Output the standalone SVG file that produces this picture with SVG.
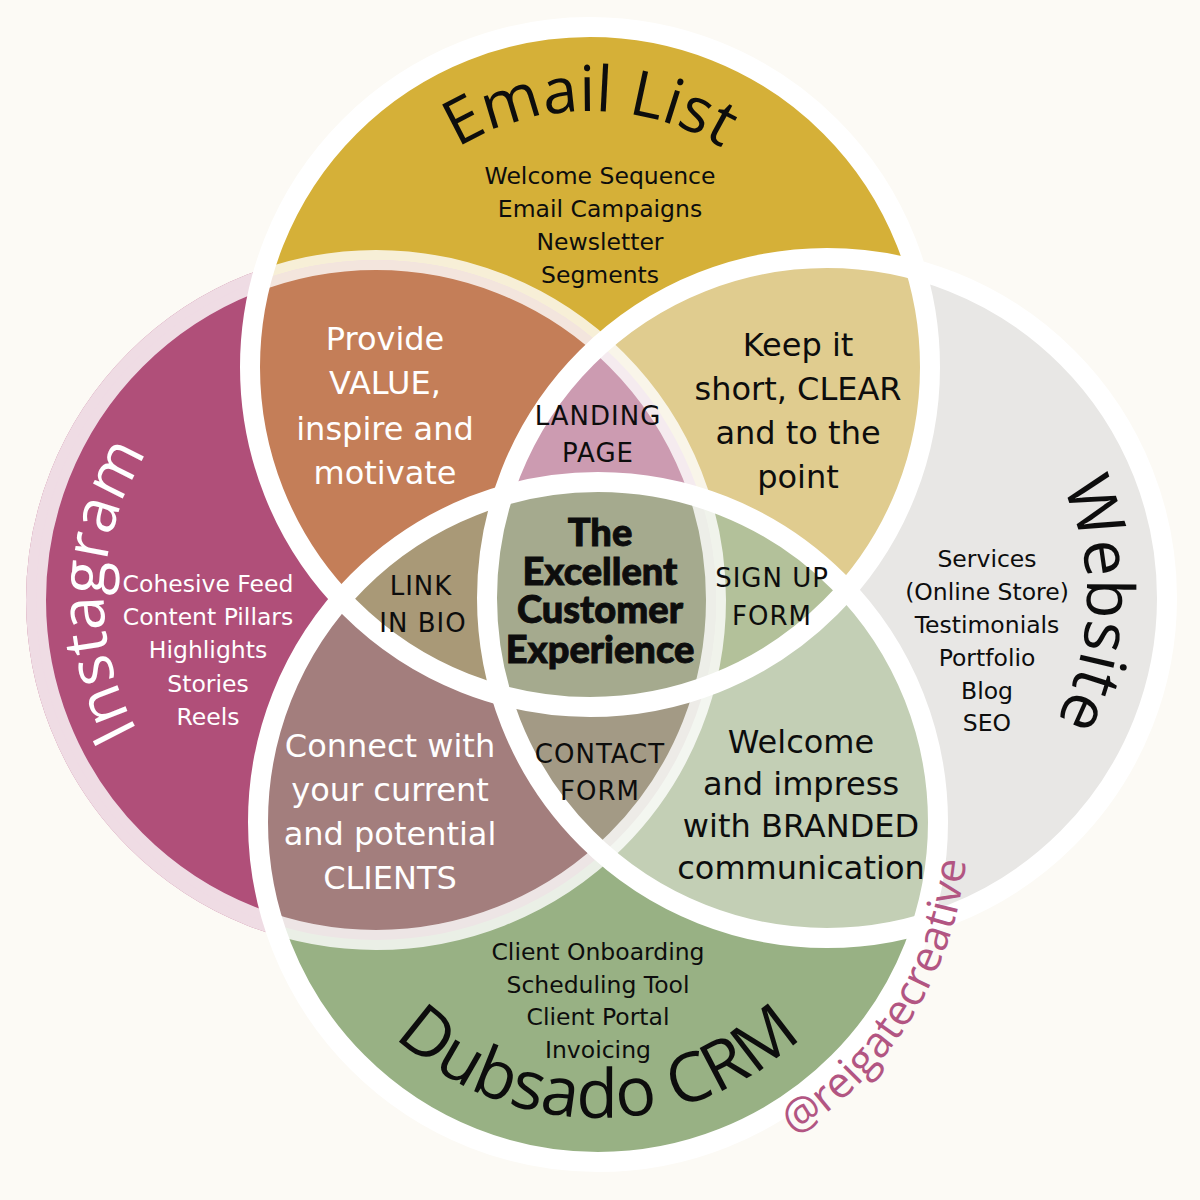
<svg xmlns="http://www.w3.org/2000/svg" width="1200" height="1200" viewBox="0 0 1200 1200">
<defs>
<clipPath id="cE"><circle cx="590" cy="367" r="340"/></clipPath>
<clipPath id="cI"><circle cx="376" cy="600" r="340"/></clipPath>
<clipPath id="cW"><circle cx="827" cy="598" r="340"/></clipPath>
<clipPath id="cD"><circle cx="598" cy="822" r="340"/></clipPath>
<path id="pE" d="M368.3,239 A256,256 0 0 1 811.7,239"/>
<path id="pI" d="M177.1,785.5 A272,272 0 0 1 190.5,401.1"/>
<path id="pW" d="M1029.9,435.4 A260,260 0 0 1 1022.3,769.6"/>
<path id="pD" d="M341.7,970 A296,296 0 0 0 854.3,970"/>
<path id="pR" d="M771.7,1148.7 A370,370 0 0 0 967.8,834.9"/>
</defs>
<style>
.t{font-family:"DejaVu Sans","Noto Sans",sans-serif;text-anchor:middle}
.li{font-size:23.5px}
.big{font-size:32px}
.lbl{font-size:26px;letter-spacing:1px}
.ctr{font-family:Lato,"Open Sans",sans-serif;font-weight:900;font-size:38px;text-anchor:middle;fill:#0d0d0d;stroke:#0d0d0d;stroke-width:0.9px}
.ttl{font-family:"Open Sans","Noto Sans",sans-serif;font-size:64px;text-anchor:middle}
.dk{fill:#0d0d0d}
.wt{fill:#ffffff}
.ring{fill:none;stroke:#ffffff;stroke-width:20}
</style>
<rect width="1200" height="1200" fill="#fcfaf5"/>

<!-- Instagram halo underlay -->
<circle cx="376" cy="600" r="340" fill="none" stroke="#b04f79" stroke-width="20"/>

<g id="email"><circle cx="590" cy="367" r="340" fill="#d5b038"/></g>
<g id="instagram"><circle cx="376" cy="600" r="340" fill="#b04f79"/></g>
<g id="website"><circle cx="827" cy="598" r="340" fill="#e8e7e5"/></g>
<g id="dubsado"><circle cx="598" cy="822" r="340" fill="#98b184"/></g>

<!-- pair overlaps -->
<g id="email-instagram" clip-path="url(#cE)"><circle cx="376" cy="600" r="340" fill="#c47e58"/></g>
<g id="email-website" clip-path="url(#cE)"><circle cx="827" cy="598" r="340" fill="#e0cc8f"/></g>
<g id="instagram-dubsado" clip-path="url(#cI)"><circle cx="598" cy="822" r="340" fill="#a37e7d"/></g>
<g id="website-dubsado" clip-path="url(#cW)"><circle cx="598" cy="822" r="340" fill="#c3cfb5"/></g>

<!-- triple overlaps -->
<g id="landing-page" clip-path="url(#cE)"><g clip-path="url(#cI)"><circle cx="827" cy="598" r="340" fill="#cc9bb1"/></g></g>
<g id="link-in-bio" clip-path="url(#cE)"><g clip-path="url(#cI)"><circle cx="598" cy="822" r="340" fill="#a99977"/></g></g>
<g id="sign-up-form" clip-path="url(#cE)"><g clip-path="url(#cW)"><circle cx="598" cy="822" r="340" fill="#b3c19a"/></g></g>
<g id="contact-form" clip-path="url(#cI)"><g clip-path="url(#cW)"><circle cx="598" cy="822" r="340" fill="#a39a85"/></g></g>

<!-- centre -->
<g id="centre" clip-path="url(#cE)"><g clip-path="url(#cI)"><g clip-path="url(#cW)"><circle cx="598" cy="822" r="340" fill="#a5aa8e"/></g></g></g>

<!-- outlines -->
<g id="outlines">
<circle cx="376" cy="600" r="340" fill="none" stroke="#ffffff" stroke-opacity="0.8" stroke-width="20"/>
<circle class="ring" cx="590" cy="367" r="340"/>
<circle class="ring" cx="827" cy="598" r="340"/>
<circle class="ring" cx="598" cy="822" r="340"/>
</g>

<!-- titles -->
<g id="titles">
<text class="ttl dk" style="font-size:63px"><textPath href="#pE" startOffset="50%">Email List</textPath></text>
<text class="ttl wt" style="font-size:62px"><textPath href="#pI" startOffset="50%">Instagram</textPath></text>
<text class="ttl dk" style="font-size:65px"><textPath href="#pW" startOffset="50%">Website</textPath></text>
<text class="ttl dk" style="font-size:68px"><textPath href="#pD" startOffset="50%">Dubsado CRM</textPath></text>
</g>

<!-- lists -->
<g id="email-items" class="t li dk">
<text x="600" y="184">Welcome Sequence</text>
<text x="600" y="217">Email Campaigns</text>
<text x="600" y="250">Newsletter</text>
<text x="600" y="283">Segments</text>
</g>
<g id="instagram-items" class="t li wt">
<text x="208" y="592">Cohesive Feed</text>
<text x="208" y="625">Content Pillars</text>
<text x="208" y="658">Highlights</text>
<text x="208" y="692">Stories</text>
<text x="208" y="725">Reels</text>
</g>
<g id="website-items" class="t li dk">
<text x="987" y="567">Services</text>
<text x="987" y="600">(Online Store)</text>
<text x="987" y="633">Testimonials</text>
<text x="987" y="666">Portfolio</text>
<text x="987" y="699">Blog</text>
<text x="987" y="731">SEO</text>
</g>
<g id="dubsado-items" class="t li dk">
<text x="598" y="960">Client Onboarding</text>
<text x="598" y="993">Scheduling Tool</text>
<text x="598" y="1025">Client Portal</text>
<text x="598" y="1058">Invoicing</text>
</g>

<!-- overlap texts -->
<g id="provide-text" class="t big wt">
<text x="385" y="350">Provide</text>
<text x="385" y="394">VALUE,</text>
<text x="385" y="440">inspire and</text>
<text x="385" y="484">motivate</text>
</g>
<g id="keep-text" class="t big dk">
<text x="798" y="356">Keep it</text>
<text x="798" y="400">short, CLEAR</text>
<text x="798" y="444">and to the</text>
<text x="798" y="488">point</text>
</g>
<g id="connect-text" class="t big wt">
<text x="390" y="757">Connect with</text>
<text x="390" y="801">your current</text>
<text x="390" y="845">and potential</text>
<text x="390" y="889">CLIENTS</text>
</g>
<g id="welcome-text" class="t big dk">
<text x="801" y="753">Welcome</text>
<text x="801" y="795">and impress</text>
<text x="801" y="837">with BRANDED</text>
<text x="801" y="879">communication</text>
</g>

<g id="labels" class="t lbl dk">
<text x="598" y="425">LANDING</text>
<text x="598" y="462">PAGE</text>
<text x="421" y="595">LINK</text>
<text x="423" y="632">IN BIO</text>
<text x="772" y="587">SIGN UP</text>
<text x="772" y="625">FORM</text>
<text x="600" y="763">CONTACT</text>
<text x="600" y="800">FORM</text>
</g>

<g id="centre-text">
<text class="ctr" x="600" y="546">The</text>
<text class="ctr" x="600" y="585">Excellent</text>
<text class="ctr" x="600" y="623">Customer</text>
<text class="ctr" x="600" y="663">Experience</text>
</g>

<text font-family="'Open Sans','Noto Sans',sans-serif" font-size="43" fill="#b25582" text-anchor="middle"><textPath href="#pR" startOffset="50%">@reigatecreative</textPath></text>
</svg>
